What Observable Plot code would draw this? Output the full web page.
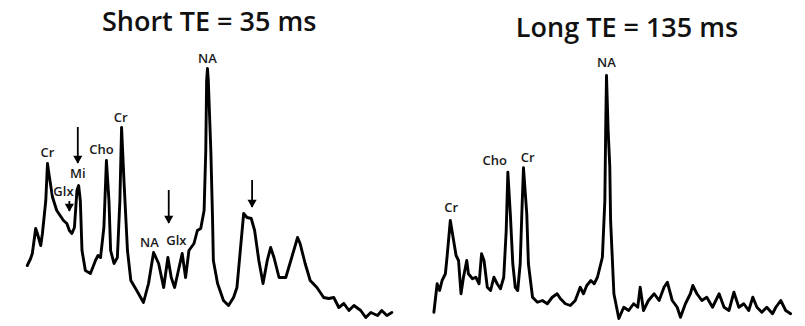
<!DOCTYPE html>
<html>
<head>
<meta charset="utf-8">
<script src="https://cdn.jsdelivr.net/npm/d3@7"></script>
<script src="https://cdn.jsdelivr.net/npm/@observablehq/plot@0.6"></script>
<style>
  html, body { margin: 0; padding: 0; background: #fff; }
  #wrap { display: flex; width: 805px; height: 326px; }
  #wrap svg { display: block; }
</style>
</head>
<body>
<div id="wrap"></div>
<script>
// ---- Short TE = 35 ms spectrum (chemical shift, ppm ; intensity, a.u.) ----
const shortPpm = [4.16,4.12,4.10,4.06,4.04,4.00,3.98,3.94,3.92,3.90,3.86,3.81,3.77,3.73,3.69,3.66,3.63,3.60,3.57,3.55,3.53,3.51,3.47,3.41,3.35,3.32,3.29,3.25,3.22,3.19,3.17,3.13,3.09,3.06,3.04,3.01,2.97,2.93,2.86,2.78,2.72,2.66,2.60,2.54,2.49,2.45,2.41,2.36,2.32,2.28,2.24,2.18,2.14,2.10,2.06,2.04,2.03,2.02,2.01,1.98,1.96,1.95,1.90,1.83,1.77,1.71,1.67,1.63,1.59,1.55,1.50,1.46,1.41,1.36,1.31,1.27,1.23,1.17,1.09,1.03,0.95,0.92,0.86,0.80,0.72,0.64,0.58,0.52,0.46,0.40,0.34,0.28,0.20,0.14,0.08,0.00,-0.05,-0.11,-0.17];
const shortInt = [22,24.8,26.8,36.8,34.8,30,34.8,48,62.8,58,49.3,44,42,40,38.8,36,34.8,37.2,52,54,48,28,20,18.8,24,26,25.2,37.2,64,48,28,22.8,25.2,48,77.2,54.8,28,16,12,7.2,14.8,27.2,22.8,13.2,25.2,17.2,13.2,20.8,26.8,17.2,28,30.8,36,36.8,44,68,96,100.8,96,68,41.2,24,14.8,8,6,9.2,13.2,28,42.8,41.2,40.8,36,24,14.8,24,29.2,25.2,17.2,17.2,24,33.2,30.8,22.8,16,13.2,9.2,8.8,9.2,5.2,6.8,4,6,4,1.2,3.2,2,4,2,3.2];

// ---- Long TE = 135 ms spectrum ----
const longPpm = [4.12,4.08,4.05,4.02,3.98,3.96,3.92,3.88,3.85,3.82,3.79,3.76,3.72,3.70,3.65,3.61,3.57,3.54,3.51,3.47,3.43,3.39,3.35,3.31,3.27,3.24,3.22,3.19,3.16,3.13,3.10,3.07,3.05,3.03,2.99,2.97,2.92,2.86,2.80,2.74,2.68,2.62,2.58,2.52,2.46,2.40,2.34,2.30,2.26,2.21,2.17,2.13,2.07,2.04,2.03,2.02,2.00,1.98,1.97,1.93,1.87,1.81,1.75,1.69,1.64,1.61,1.57,1.51,1.44,1.38,1.32,1.28,1.22,1.16,1.12,1.06,1.00,0.97,0.92,0.86,0.80,0.73,0.65,0.59,0.53,0.47,0.41,0.35,0.29,0.24,0.19,0.13,0.07,0.00,-0.04,-0.10,-0.16,-0.22];
const longInt = [3.3,14.7,12,16,18.7,25.3,40,32,26,24,10.7,17.3,24,18.7,16.7,17.3,14.7,26.7,24,13.3,12,17.3,14.7,12.7,17.3,36,59.3,42.7,22.7,13.3,12,22.7,42.7,61.1,42.7,22.7,9.3,7.3,8,6.7,9.3,10.7,8.7,6.7,6,8,13.3,10.7,14,16,14.7,17.3,25.3,48,76,98,76,61.6,40,10.7,0.8,5.3,4,6.7,5.3,13.3,4,8,10.7,8,13.3,15.3,8,5.3,1.3,6.7,10.7,14,10.7,8,9.3,5.3,10.7,5.3,4,11.3,5.3,6.7,4,9.3,5.3,3.3,5.3,2.7,5.3,8,4,2.7];

// ---- Peak labels ----
const shortLabels = ["Cr","Glx","Mi","Cho","Cr","NA","NA","Glx"];
const shortLabelPpm = [3.92,3.73,3.56,3.28,3.05,2.02,2.71,2.39];
const shortLabelInt = [67.2,51.4,58.8,68.4,81.2,104.8,31.2,32];

const longLabels = ["Cr","Cho","Cr","NA"];
const longLabelPpm = [3.91,3.38,2.98,2.02];
const longLabelInt = [45.2,64,65.2,103.2];

// ---- Arrows (short TE): ppm, top, tip ----
const arrowPpm = [3.56,2.48,1.49,3.66];
const arrowTop = [77.2,52,56,47.6];
const arrowTip = [62.8,38.8,45.2,43.6];

const titles = ["Short TE = 35 ms","Long TE = 135 ms"];

const zip = (xs, ys) => xs.map((x, i) => ({x, y: ys[i]}));
const shortData = zip(shortPpm, shortInt);
const longData = zip(longPpm, longInt);
const shortLab = shortLabels.map((t, i) => ({t, x: shortLabelPpm[i], y: shortLabelInt[i]}));
const longLab = longLabels.map((t, i) => ({t, x: longLabelPpm[i], y: longLabelInt[i]}));
const arrows = arrowPpm.map((x, i) => ({x, y1: arrowTop[i], y2: arrowTip[i]}));

const labelStyle = {
  text: "t", x: "x", y: "y",
  fontSize: 13, fontWeight: 600, fontFamily: "Open Sans",
  fill: "#1a1a1a", stroke: "white", strokeWidth: 2, paintOrder: "stroke"
};
const titleStyle = {
  frameAnchor: "top", lineAnchor: "middle",
  fontSize: 27, fontWeight: 600, fontFamily: "Open Sans", fill: "#111"
};

const left = Plot.plot({
  width: 403, height: 326,
  marginLeft: 23.4, marginRight: 9.1, marginTop: 70, marginBottom: 6,
  x: {domain: [4.2, -0.2], axis: null},
  y: {domain: [0, 100], axis: null},
  style: {background: "white", overflow: "visible"},
  marks: [
    Plot.line(shortData, {x: "x", y: "y", stroke: "#000", strokeWidth: 2.9, strokeLinejoin: "round", strokeLinecap: "round"}),
    Plot.ruleX(arrows, {x: "x", y1: "y1", y2: "y2", stroke: "#000", strokeWidth: 1.8}),
    Plot.dot(arrows, {x: "x", y: "y2", symbol: "triangle", r: 3.4, rotate: 180, fill: "#000", stroke: "none", dy: -5}),
    Plot.text(shortLab, labelStyle),
    Plot.text([titles[0]], {...titleStyle, dy: -48})
  ]
});

const right = Plot.plot({
  width: 402, height: 326,
  marginLeft: 23.8, marginRight: 8.3, marginTop: 70, marginBottom: 6,
  x: {domain: [4.2, -0.3], axis: null},
  y: {domain: [0, 100], axis: null},
  style: {background: "white", overflow: "visible"},
  marks: [
    Plot.line(longData, {x: "x", y: "y", stroke: "#000", strokeWidth: 2.9, strokeLinejoin: "round", strokeLinecap: "round"}),
    Plot.text(longLab, labelStyle),
    Plot.text([titles[1]], {...titleStyle, dy: -42, dx: 14.75})
  ]
});

document.getElementById("wrap").append(left, right);
</script>
</body>
</html>
